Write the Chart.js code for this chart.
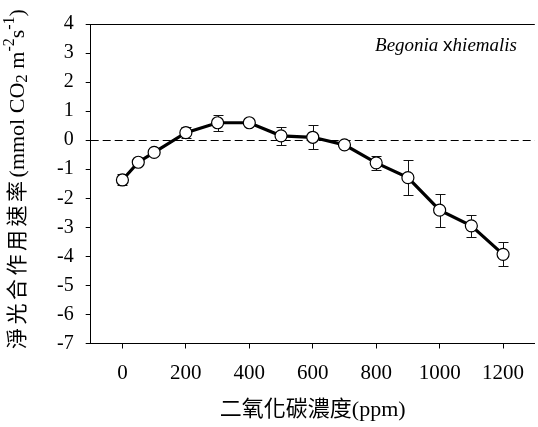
<!DOCTYPE html>
<html>
<head>
<meta charset="utf-8">
<script src="https://cdn.jsdelivr.net/npm/chart.js"></script>
<style>
body { margin: 0; background: #fff; overflow: hidden; }
</style>
</head>
<body>
<canvas id="myChart" width="542" height="427"></canvas>
<script>
// valeurs
const co2 = [0, 50, 100, 200, 300, 400, 500, 600, 700, 800, 900, 1000, 1100, 1200];
const taux = [-1.37, -0.76, -0.42, 0.26, 0.6, 0.6, 0.15, 0.1, -0.16, -0.78, -1.29, -2.41, -2.95, -3.93];
const erreurs = [0.19, 0.1, 0.08, 0.19, 0.28, 0.08, 0.32, 0.42, 0.08, 0.24, 0.6, 0.57, 0.38, 0.41];
const xTicks = [0, 200, 400, 600, 800, 1000, 1200];
const yTicks = [-7, -6, -5, -4, -3, -2, -1, 0, 1, 2, 3, 4];

const serif = '"Liberation Serif", "Noto Sans CJK TC", serif';

// titre vertical avec indices et exposants
function titreY(ctx, cx, cy) {
    const parts = [];
    '淨光合作用速率'.split('').forEach((c) => parts.push({ t: c, s: 21, dy: 0, gap: 3.5 }));
    parts.push({ t: '(mmol CO', s: 22, dy: 0, gap: 0 });
    parts.push({ t: '2', s: 17, dy: 5, gap: 0 });
    parts.push({ t: ' m', s: 22, dy: 0, gap: 0 });
    parts.push({ t: '-2', s: 16, dy: -8, gap: 0 });
    parts.push({ t: 's', s: 22, dy: 0, gap: 0 });
    parts.push({ t: '-1', s: 16, dy: -8, gap: 0 });
    parts.push({ t: ')', s: 22, dy: 0, gap: 0 });
    ctx.save();
    ctx.translate(cx, cy);
    ctx.rotate(-Math.PI / 2);
    ctx.textBaseline = 'middle';
    ctx.textAlign = 'left';
    let total = 0;
    parts.forEach((p) => {
        ctx.font = p.s + 'px ' + serif;
        total += ctx.measureText(p.t).width + p.gap;
    });
    let pos = -total / 2;
    parts.forEach((p) => {
        ctx.font = p.s + 'px ' + serif;
        ctx.fillText(p.t, pos, p.dy);
        pos += ctx.measureText(p.t).width + p.gap;
    });
    ctx.restore();
}

const dessinPlugin = {
    id: 'dessin',
    beforeDatasetsDraw(chart) {
        const ctx = chart.ctx;
        const area = chart.chartArea;
        const x = chart.scales.x;
        const y = chart.scales.y;
        ctx.save();
        // ligne pointillée du zéro
        const y0 = Math.round(y.getPixelForValue(0)) + 0.5;
        ctx.strokeStyle = '#000';
        ctx.lineWidth = 1;
        ctx.setLineDash([8, 4]);
        ctx.beginPath();
        ctx.moveTo(area.left, y0);
        ctx.lineTo(area.right, y0);
        ctx.stroke();
        ctx.setLineDash([]);
        // barres d'erreur
        ctx.strokeStyle = '#111';
        co2.forEach((c, i) => {
            const px = Math.round(x.getPixelForValue(c)) + 0.5;
            const haut = Math.round(y.getPixelForValue(taux[i] + erreurs[i])) + 0.5;
            const bas = Math.round(y.getPixelForValue(taux[i] - erreurs[i])) + 0.5;
            ctx.beginPath();
            ctx.moveTo(px, haut); ctx.lineTo(px, bas);
            ctx.moveTo(px - 5, haut); ctx.lineTo(px + 5, haut);
            ctx.moveTo(px - 5, bas); ctx.lineTo(px + 5, bas);
            ctx.stroke();
        });
        ctx.restore();
    },
    afterDraw(chart) {
        const ctx = chart.ctx;
        const area = chart.chartArea;
        ctx.save();
        // bord du haut
        const yh = Math.round(area.top) + 0.5;
        ctx.strokeStyle = '#000';
        ctx.lineWidth = 1;
        ctx.beginPath();
        ctx.moveTo(area.left, yh);
        ctx.lineTo(area.right, yh);
        ctx.stroke();

        ctx.fillStyle = '#000';
        // titre de l'axe x
        ctx.font = '22px ' + serif;
        ctx.textAlign = 'center';
        ctx.textBaseline = 'middle';
        ctx.fillText('二氧化碳濃度(ppm)', (area.left + area.right) / 2, 410);

        titreY(ctx, 18, 179);

        // nom de l'espèce
        ctx.textBaseline = 'alphabetic';
        ctx.textAlign = 'left';
        const morceaux = [
            { t: 'Begonia ', f: 'italic 19px "Liberation Serif"' },
            { t: 'x', f: '19px "Liberation Sans"' },
            { t: 'hiemalis', f: 'italic 19px "Liberation Serif"' }
        ];
        let largeur = 0;
        morceaux.forEach((m) => { ctx.font = m.f; largeur += ctx.measureText(m.t).width; });
        let px = 517 - largeur;
        morceaux.forEach((m) => {
            ctx.font = m.f;
            ctx.fillText(m.t, px, 51);
            px += ctx.measureText(m.t).width;
        });
        ctx.restore();
    }
};

document.addEventListener('DOMContentLoaded', function () {
    var ctx = document.getElementById('myChart').getContext('2d');
    var myChart = new Chart(ctx, {
        type: 'line',
        data: {
            datasets: [{
                data: co2.map((c, i) => ({ x: c, y: taux[i] })),
                borderColor: '#000',
                borderWidth: 3.2,
                pointRadius: 6,
                pointBackgroundColor: '#fff',
                pointBorderColor: '#000',
                pointBorderWidth: 1.2,
                tension: 0
            }]
        },
        options: {
            responsive: false,
            animation: false,
            layout: { padding: { top: 19, left: 0, right: 0, bottom: 0 } },
            plugins: {
                legend: { display: false },
                tooltip: { enabled: false }
            },
            scales: {
                x: {
                    type: 'linear',
                    min: -100,
                    max: 1300,
                    afterBuildTicks: (s) => { s.ticks = xTicks.map((v) => ({ value: v })); },
                    afterFit: (s) => { s.height = 83.5; },
                    grid: { drawOnChartArea: false, color: '#000', tickLength: 5 },
                    border: { color: '#000', width: 1 },
                    ticks: {
                        color: '#000',
                        font: { family: serif, size: 21 },
                        padding: 12,
                        maxRotation: 0,
                        autoSkip: false,
                        callback: (v) => String(v)
                    }
                },
                y: {
                    min: -7,
                    max: 4,
                    afterBuildTicks: (s) => { s.ticks = yTicks.map((v) => ({ value: v })); },
                    afterFit: (s) => { s.width = 90.7; },
                    grid: { drawOnChartArea: false, color: '#000', tickLength: 5 },
                    border: { color: '#000', width: 1 },
                    ticks: {
                        color: '#000',
                        font: { family: serif, size: 20 },
                        padding: 12,
                        callback: (v) => String(v)
                    }
                }
            }
        },
        plugins: [dessinPlugin]
    });
});
</script>
</body>
</html>
